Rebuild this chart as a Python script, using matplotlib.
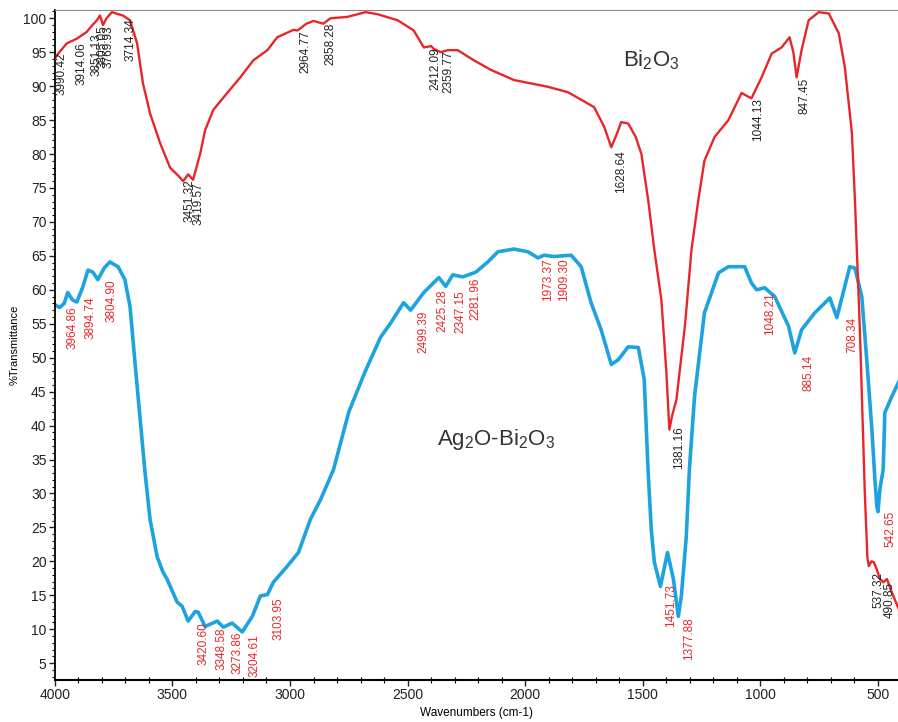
import matplotlib
matplotlib.use('Agg')
import matplotlib.pyplot as plt
from matplotlib.ticker import MultipleLocator

plt.rcParams['font.family'] = ['Liberation Sans', 'DejaVu Sans']
plt.rcParams['mathtext.default'] = 'regular'

# Bi2O3 spectrum (wavenumber, %T)
bi_wn = [4000, 3990, 3949, 3906, 3864, 3840, 3821, 3808, 3795, 3780, 3757, 3730,
         3710, 3680, 3650, 3625, 3595, 3552, 3510, 3475, 3454, 3433, 3412, 3382,
         3361, 3326, 3267, 3211, 3156, 3096, 3054, 2985, 2968, 2930, 2900, 2858,
         2828, 2756, 2679, 2628, 2542, 2474, 2431, 2400, 2389, 2359, 2329, 2287,
         2218, 2146, 2048, 1903, 1818, 1762, 1707, 1664, 1634, 1610, 1592, 1562,
         1530, 1506, 1477, 1451, 1421, 1400, 1387, 1375, 1357, 1320, 1293, 1264,
         1238, 1195, 1136, 1080, 1060, 1038, 995, 952, 910, 876, 860, 846, 825,
         795, 752, 709, 667, 641, 611, 598, 577, 556, 545, 539, 528, 518, 505,
         492, 478, 462, 441, 411]
bi_t = [94.0, 94.6, 96.3, 97.0, 98.0, 99.0, 99.7, 100.4, 99.0, 100.0, 100.9, 100.6,
        100.4, 99.7, 96.3, 90.4, 86.0, 81.6, 78.0, 76.8, 76.0, 77.0, 76.2, 80.0,
        83.5, 86.5, 89.0, 91.3, 93.8, 95.3, 97.2, 98.3, 98.2, 99.2, 99.6, 99.2,
        100.0, 100.2, 100.9, 100.6, 99.7, 98.2, 95.7, 95.9, 95.5, 95.0, 95.3, 95.3,
        93.8, 92.4, 90.9, 89.9, 89.1, 88.0, 86.9, 84.0, 81.0, 83.0, 84.7, 84.5,
        82.5, 80.0, 73.2, 65.9, 58.5, 48.0, 39.4, 41.5, 43.8, 55.0, 65.9, 73.2,
        79.0, 82.5, 85.0, 89.0, 88.6, 88.2, 91.3, 94.8, 95.7, 97.2, 95.0, 91.3, 95.3,
        99.7, 100.9, 100.7, 97.8, 92.8, 83.1, 73.2, 54.0, 30.0, 20.5, 19.3, 20.0, 19.9, 18.8,
        17.4, 16.9, 17.4, 15.4, 12.9]

# Ag2O-Bi2O3 spectrum
ag_wn = [4000, 3979, 3960, 3945, 3925, 3906, 3880, 3859, 3838, 3817, 3790, 3766,
         3731, 3702, 3680, 3659, 3638, 3616, 3595, 3565, 3540, 3523, 3480, 3459,
         3433, 3403, 3390, 3361, 3309, 3284, 3246, 3203, 3160, 3126, 3096, 3071,
         3011, 2964, 2913, 2870, 2815, 2750, 2680, 2615, 2572, 2517, 2487, 2431,
         2367, 2338, 2308, 2265, 2210, 2159, 2116, 2048, 1988, 1946, 1920, 1877,
         1805, 1762, 1720, 1677, 1634, 1604, 1562, 1519, 1494, 1477, 1464, 1451,
         1425, 1395, 1370, 1349, 1336, 1315, 1302, 1280, 1238, 1178, 1136, 1067,
         1038, 1016, 982, 939, 880, 854, 825, 769, 705, 675, 645, 620, 598, 569,
         547, 526, 513, 505, 500, 492, 478, 471, 441, 407]
ag_t = [57.8, 57.4, 58.0, 59.6, 58.5, 58.2, 60.5, 62.9, 62.6, 61.5, 63.2, 64.1,
        63.4, 61.5, 57.5, 49.3, 41.3, 33.0, 26.2, 20.7, 18.4, 17.4, 14.0, 13.4,
        11.2, 12.6, 12.5, 10.4, 11.2, 10.3, 10.9, 9.6, 11.9, 14.9, 15.1, 16.9,
        19.3, 21.3, 26.2, 29.1, 33.5, 42.0, 48.0, 53.0, 55.1, 58.1, 57.0, 59.6,
        61.8, 60.5, 62.2, 61.9, 62.6, 64.1, 65.6, 66.0, 65.6, 64.7, 65.1, 64.9,
        65.1, 63.4, 58.1, 54.1, 49.0, 49.7, 51.6, 51.5, 46.8, 33.0, 24.7, 19.9,
        16.3, 21.3, 17.4, 11.9, 14.9, 23.7, 33.5, 44.3, 56.6, 62.5, 63.4, 63.4,
        61.0, 60.0, 60.3, 59.0, 54.6, 50.7, 54.1, 56.6, 58.8, 55.9, 60.0, 63.4, 63.2, 59.0,
        49.3, 39.4, 32.0, 28.1, 27.3, 30.6, 33.5, 41.9, 44.3, 46.8]

# peak labels: text, x, y (top of label)
bi_labels = ['3990.42', '3914.06', '3851.13', '3805.05', '3769.93', '3714.34',
             '3451.32', '3419.57', '2964.77', '2858.28', '2412.09', '2359.77',
             '1628.64', '1381.16', '1044.13', '847.45', '537.32', '490.85']
bi_lab_x = [3970, 3885, 3821, 3797, 3772, 3680, 3425, 3390, 2934, 2828, 2380, 2325,
            1592, 1345, 1008, 812, 496, 449]
bi_lab_y = [94.9, 96.5, 97.8, 99.0, 99.0, 100.0, 76.2, 75.8, 98.2, 99.3, 95.7, 95.3,
            80.6, 39.9, 88.2, 91.2, 18.4, 16.9]

ag_labels = ['3964.86', '3894.74', '3804.90', '3420.60', '3348.58', '3273.86',
             '3204.61', '3103.95', '2499.39', '2425.28', '2347.15', '2281.96',
             '1973.37', '1909.30', '1451.73', '1377.88', '1048.21', '885.14',
             '708.34', '542.65']
ag_lab_x = [3923, 3847, 3757, 3369, 3292, 3224, 3152, 3049, 2431, 2350, 2274, 2210,
            1903, 1835, 1378, 1302, 961, 795, 611, 445]
ag_lab_y = [57.5, 59.0, 61.5, 11.0, 10.3, 9.6, 9.3, 14.7, 57.0, 60.0, 60.0, 61.8,
            64.7, 64.7, 16.6, 11.8, 59.7, 50.4, 56.0, 27.4]

red = '#e8262a'
blue = '#1ea3e0'

fig = plt.figure(figsize=(8.98, 7.22), dpi=100)
ax = fig.add_axes([0.061, 0.058, 0.939, 0.928])

ax.plot(ag_wn, ag_t, color=blue, lw=2.6, zorder=2)
ax.plot(bi_wn, bi_t, color=red, lw=1.7, zorder=3)

for t, x, y in zip(bi_labels, bi_lab_x, bi_lab_y):
    ax.text(x, y, t, rotation=90, ha='center', va='top', fontsize=8.5,
            color='#222222', zorder=4)
for t, x, y in zip(ag_labels, ag_lab_x, ag_lab_y):
    ax.text(x, y, t, rotation=90, ha='center', va='top', fontsize=8.5,
            color=red, zorder=4)

ax.text(1464, 93.8, 'Bi$_2$O$_3$', fontsize=16, color='#333333', ha='center', va='center')
ax.text(2124, 37.9, 'Ag$_2$O-Bi$_2$O$_3$', fontsize=16, color='#333333', ha='center', va='center')

ax.set_xlim(4000, 415)
ax.set_ylim(2.5, 101.2)
ax.xaxis.set_major_locator(MultipleLocator(500))
ax.xaxis.set_minor_locator(MultipleLocator(100))
ax.yaxis.set_major_locator(MultipleLocator(5))
ax.yaxis.set_minor_locator(MultipleLocator(1))
ax.tick_params(which='major', length=4, width=1, labelsize=10, colors='#222222', pad=2)
ax.tick_params(which='minor', length=2.5, width=0.8)
ax.tick_params(axis='x', which='minor', direction='inout', length=4)

ax.spines['right'].set_visible(False)
ax.spines['top'].set_color('#888888')
ax.spines['left'].set_linewidth(1.3)
ax.spines['bottom'].set_linewidth(1.5)

ax.set_xlabel('Wavenumbers (cm-1)', fontsize=8.5, labelpad=3)
ax.set_ylabel('%Transmittance', fontsize=8, labelpad=3)

fig.savefig('out.png', dpi=100)
